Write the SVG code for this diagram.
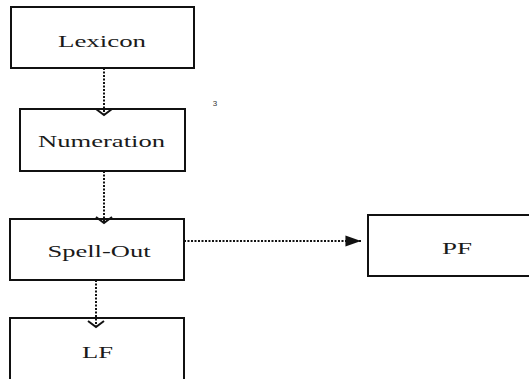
<svg xmlns="http://www.w3.org/2000/svg" width="529" height="379" viewBox="0 0 529 379">
<style>
.box{fill:#fff;stroke:#111;stroke-width:2}
.lbl{font-family:"Liberation Serif","Times New Roman",serif;font-size:16px;fill:#1a1a1a;text-anchor:middle}
.edge{fill:none;stroke:#111;stroke-width:2;stroke-dasharray:2 1.5}
</style>
<defs>
<marker id="chev" markerUnits="userSpaceOnUse" markerWidth="20" markerHeight="20" viewBox="-10 -10 20 20" refX="0" refY="0" orient="auto" overflow="visible">
<path d="M-6,-8 L0,0 L-6,8" fill="none" stroke="#111" stroke-width="2"/>
</marker>
<marker id="tri" markerUnits="userSpaceOnUse" markerWidth="20" markerHeight="20" viewBox="-16 -6 18 12" refX="0" refY="0" orient="auto" overflow="visible">
<path d="M-14,-5 L0,0 L-14,5 Z" fill="#111"/>
</marker>
</defs>
<rect x="0" y="0" width="529" height="379" fill="#fff"/>
<g id="lexicon"><rect class="box" x="11" y="7" width="183" height="61"/><text class="lbl" x="102" y="46.5" textLength="88" lengthAdjust="spacingAndGlyphs">Lexicon</text></g>
<g id="numeration"><rect class="box" x="20" y="109" width="165" height="62"/><text class="lbl" x="101.5" y="147" textLength="127" lengthAdjust="spacingAndGlyphs">Numeration</text></g>
<g id="spellout"><rect class="box" x="10" y="219" width="174" height="61"/><text class="lbl" x="99" y="257" textLength="103" lengthAdjust="spacingAndGlyphs">Spell-Out</text></g>
<g id="lf"><rect class="box" x="10" y="318" width="174" height="70"/><text class="lbl" x="97.5" y="358" textLength="31" lengthAdjust="spacingAndGlyphs">LF</text></g>
<g id="pf"><rect class="box" x="368" y="215" width="170" height="61"/><text class="lbl" x="457" y="254" textLength="30" lengthAdjust="spacingAndGlyphs">PF</text></g>
<text x="215" y="106" font-family="Liberation Sans,Arial,sans-serif" font-size="8" fill="#333" text-anchor="middle">3</text>
<g id="connectors">
<line class="edge" x1="104" y1="68" x2="104" y2="115" marker-end="url(#chev)"/>
<line class="edge" x1="104" y1="171" x2="104" y2="223" marker-end="url(#chev)"/>
<line class="edge" x1="96" y1="280" x2="96" y2="327" marker-end="url(#chev)"/>
<line class="edge" x1="184" y1="241" x2="361" y2="241" marker-end="url(#tri)"/>
</g>
</svg>
